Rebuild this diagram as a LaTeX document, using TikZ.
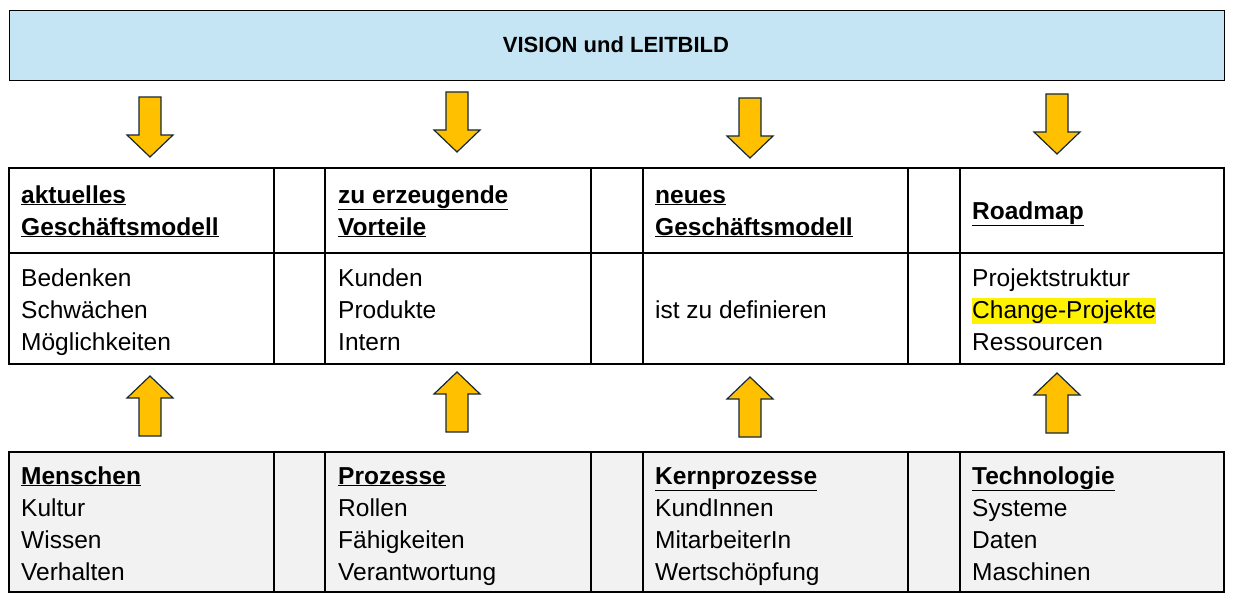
\documentclass[tikz,border=0pt]{standalone}
\usepackage{fontspec}
\setmainfont{Liberation Sans}
\definecolor{titleblue}{RGB}{197,229,245}
\definecolor{bggray}{RGB}{242,242,242}
\definecolor{arrowline}{RGB}{20,40,60}
\definecolor{arrowfill}{RGB}{255,192,0}
\begin{document}
\begin{tikzpicture}[x=1pt,y=-1pt,
  cellline/.style={draw=black,line width=1.3pt},
  txt/.style={anchor=base west,inner sep=0pt,font=\fontsize{24.5}{30}\selectfont},
  hd/.style={txt,font=\fontsize{24.5}{30}\selectfont\bfseries},
  blockarrow/.style={draw=arrowline,line width=1.2pt,fill=arrowfill,line join=miter}]
\useasboundingbox (0,0) rectangle (1238,604);
% title
\node[cellline,fill=titleblue,minimum width=1215pt,minimum height=70pt,anchor=north west,inner sep=0pt] (title) at (9,10) {};
\node[anchor=base,inner sep=0pt,font=\fontsize{22}{26}\selectfont\bfseries] (titletext) at (616,53) {VISION und LEITBILD};
% middle table
\fill[white] (9,168) rectangle (1224,364);
\draw[cellline] (9,168) rectangle (1224,364);
\draw[cellline] (9,253) -- (1224,253);
\foreach \x in {274,325,591,643,908,960} \draw[cellline] (\x,168) -- (\x,364);
% bottom table
\fill[bggray] (9,452) rectangle (1224,592);
\draw[cellline] (9,452) rectangle (1224,592);
\foreach \x in {274,325,591,643,908,960} \draw[cellline] (\x,452) -- (\x,592);
% arrows
\foreach \cx/\t in {150/97,457/92,750/98,1057/94}
  \draw[blockarrow] (\cx-11,\t) -- (\cx+11,\t) -- (\cx+11,\t+38) -- (\cx+23,\t+38) -- (\cx,\t+60) -- (\cx-23,\t+38) -- (\cx-11,\t+38) -- cycle;
\foreach \cx/\b in {150/436,457/432,750/437,1057/433}
  \draw[blockarrow] (\cx-11,\b) -- (\cx+11,\b) -- (\cx+11,\b-38) -- (\cx+23,\b-38) -- (\cx,\b-60) -- (\cx-23,\b-38) -- (\cx-11,\b-38) -- cycle;
% headings
\node[hd] (h1a) at (21,203) {\underline{aktuelles}};
\node[hd] (h1b) at (21,235) {\underline{Geschäftsmodell}};
\node[hd] (h2a) at (338,203) {\underline{zu erzeugende}};
\node[hd] (h2b) at (338,235) {\underline{Vorteile}};
\node[hd] (h3a) at (655,203) {\underline{neues}};
\node[hd] (h3b) at (655,235) {\underline{Geschäftsmodell}};
\node[hd] (h4a) at (972,219) {\underline{Roadmap}};
% bodies
\node[txt] (b1a) at (21,286) {Bedenken};
\node[txt] (b1b) at (21,318) {Schwächen};
\node[txt] (b1c) at (21,350) {Möglichkeiten};
\node[txt] (b2a) at (338,286) {Kunden};
\node[txt] (b2b) at (338,318) {Produkte};
\node[txt] (b2c) at (338,350) {Intern};
\node[txt] (b3a) at (655,318) {ist zu definieren};
\node[txt] (b4a) at (972,286) {Projektstruktur};
\node[txt,fill=yellow,text depth=6pt,text height=20pt] (b4b) at (972,318) {Change-Projekte};
\node[txt] (b4c) at (972,350) {Ressourcen};
% bottom
\node[hd] (m1) at (21,484) {\underline{Menschen}};
\node[txt] (m2) at (21,516) {Kultur};
\node[txt] (m3) at (21,548) {Wissen};
\node[txt] (m4) at (21,580) {Verhalten};
\node[hd] (p1) at (338,484) {\underline{Prozesse}};
\node[txt] (p2) at (338,516) {Rollen};
\node[txt] (p3) at (338,548) {Fähigkeiten};
\node[txt] (p4) at (338,580) {Verantwortung};
\node[hd] (k1) at (655,484) {\underline{Kernprozesse}};
\node[txt] (k2) at (655,516) {KundInnen};
\node[txt] (k3) at (655,548) {MitarbeiterIn};
\node[txt] (k4) at (655,580) {Wertschöpfung};
\node[hd] (t1) at (972,484) {\underline{Technologie}};
\node[txt] (t2) at (972,516) {Systeme};
\node[txt] (t3) at (972,548) {Daten};
\node[txt] (t4) at (972,580) {Maschinen};
\end{tikzpicture}
\end{document}
